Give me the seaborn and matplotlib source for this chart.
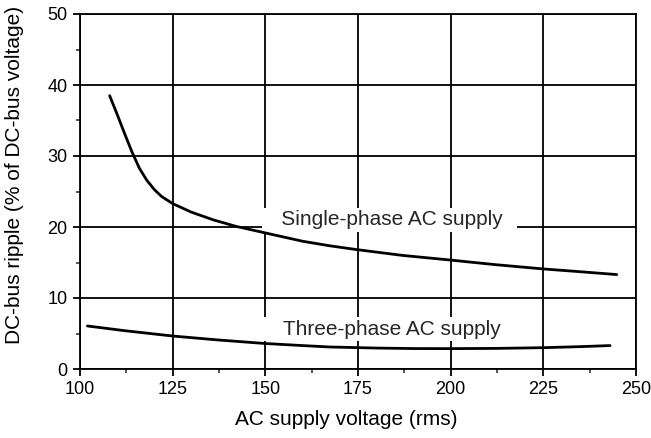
import matplotlib
matplotlib.use("Agg")
import matplotlib.pyplot as plt
import seaborn as sns
import pandas as pd
from matplotlib.ticker import MultipleLocator

# Curves
single_v = [108, 110, 112, 114, 116, 118, 120, 122, 125, 130, 136, 142,
            149.7, 160, 167.4, 174.9, 187, 199.8, 212, 224.8, 235, 244.8]
single_ripple = [38.5, 35.9, 33.2, 30.6, 28.3, 26.6, 25.3, 24.3, 23.3, 22.1, 21.0, 20.1,
                 19.2, 18.0, 17.35, 16.8, 16.0, 15.35, 14.7, 14.1, 13.7, 13.3]

three_v = [102, 112, 124.9, 137, 149.7, 160, 167.4, 180, 190, 199.8, 212, 224.8, 235, 243]
three_ripple = [6.06, 5.4, 4.65, 4.1, 3.6, 3.3, 3.1, 2.95, 2.88, 2.87, 2.9, 3.0, 3.15, 3.3]

labels = ["Single-phase AC supply", "Three-phase AC supply"]

df = pd.concat([
    pd.DataFrame({"voltage": single_v, "ripple": single_ripple, "supply": labels[0]}),
    pd.DataFrame({"voltage": three_v, "ripple": three_ripple, "supply": labels[1]}),
])

sns.set_theme(style="ticks")
plt.rcParams["font.family"] = ["Liberation Sans", "DejaVu Sans"]

fig = plt.figure(figsize=(6.51, 4.38), dpi=100)
ax = fig.add_axes([80 / 651, 1 - 369 / 438, 556 / 651, 355 / 438])

sns.lineplot(data=df, x="voltage", y="ripple", units="supply", estimator=None,
             color="black", linewidth=2.0, sort=False, ax=ax, zorder=3)

ax.set_xlim(100, 250)
ax.set_ylim(0, 50)
ax.xaxis.set_major_locator(MultipleLocator(25))
ax.xaxis.set_minor_locator(MultipleLocator(12.5))
ax.yaxis.set_major_locator(MultipleLocator(10))
ax.yaxis.set_minor_locator(MultipleLocator(5))
ax.grid(which="major", color="black", linewidth=1.3)
ax.tick_params(which="major", direction="out", length=5, width=1.3,
               labelsize=13, colors="black", pad=4)
ax.tick_params(which="minor", direction="out", length=3, width=1.1)
for s in ax.spines.values():
    s.set_linewidth(1.3)
    s.set_color("black")
    s.set_zorder(4)

ax.set_xlabel("AC supply voltage (rms)", fontsize=15, color="black")
ax.xaxis.set_label_coords(0.478, -0.115)
ax.set_ylabel("DC-bus ripple (% of DC-bus voltage)", fontsize=15, color="black")
ax.yaxis.set_label_coords(-0.10, 0.546)

# labels sit on white boxes that hide the grid behind them
box = dict(facecolor="white", edgecolor="none", pad=2)
ax.text(183.5, 21.0, "   " + labels[0] + "  ", fontsize=15, ha="center", va="center",
        bbox=box, zorder=2.5)
ax.text(183.5, 5.6, "   " + labels[1] + "  ", fontsize=15, ha="center", va="center",
        bbox=box, zorder=2.5)

fig.savefig("out.png", dpi=100)
